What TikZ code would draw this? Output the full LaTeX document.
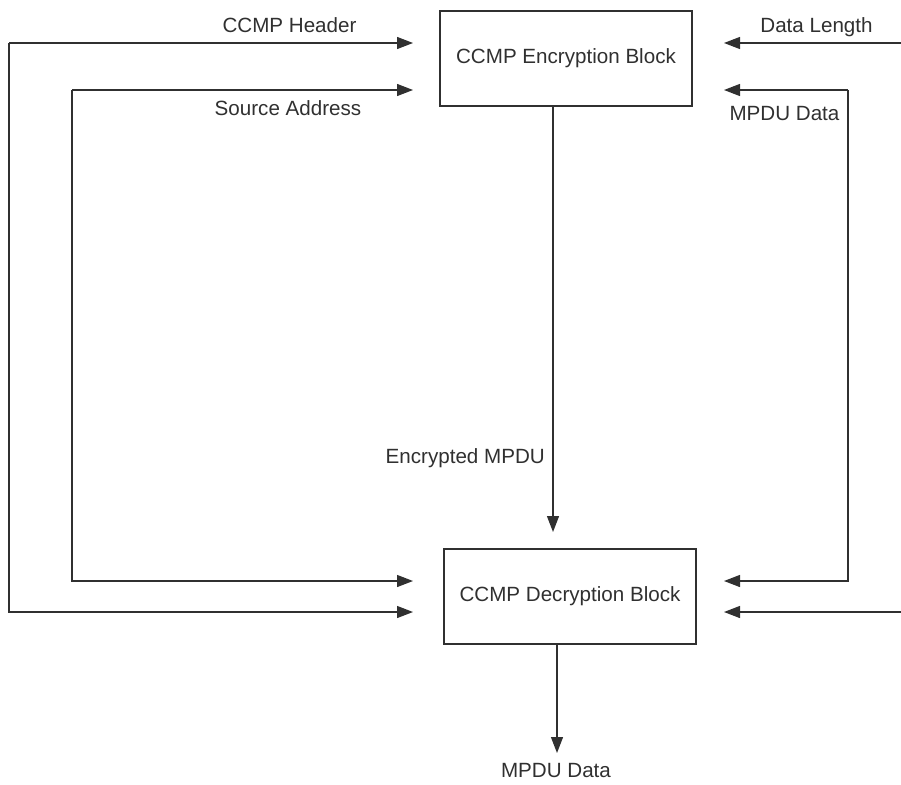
\documentclass[tikz,border=0pt]{standalone}
\usepackage{fontspec}
\setmainfont{Liberation Sans}
\usetikzlibrary{arrows.meta}
\definecolor{ink}{HTML}{303030}
\tikzset{
  blockbox/.style={draw=ink, line width=1.3pt, minimum width=252pt, minimum height=95pt, inner sep=0pt, font=\fontsize{20.6}{24}\selectfont, text=ink},
  link/.style={draw=ink, line width=1.3pt, -{Triangle[length=16pt,width=12pt]}},
  plain/.style={draw=ink, line width=1.3pt},
  lbl/.style={font=\fontsize{20.6}{24}\selectfont, text=ink, inner sep=0pt, anchor=base}
}
\begin{document}
\begin{tikzpicture}[x=1pt,y=-1pt]
\useasboundingbox (0,0) rectangle (901,784);

% the two processing blocks
\node[blockbox] (enc) at (566,58.5) {CCMP Encryption Block};
\node[blockbox] (dec) at (570,596.5) {CCMP Decryption Block};

% arrow tips and corner points
\coordinate (hdrStart) at (9,43);
\coordinate (hdrEnc) at (413,43);
\coordinate (hdrDec) at (413,612);
\coordinate (srcStart) at (72,90);
\coordinate (srcEnc) at (413,90);
\coordinate (srcDec) at (413,581);
\coordinate (lenStart) at (901,43);
\coordinate (lenEnc) at (724,43);
\coordinate (lenIn) at (901,612);
\coordinate (lenDec) at (724,612);
\coordinate (dataCorner) at (848,90);
\coordinate (dataEnc) at (724,90);
\coordinate (dataDec) at (724,581);
\coordinate (encOut) at (553,106);
\coordinate (encTip) at (553,532);
\coordinate (decOut) at (557,644);
\coordinate (decTip) at (557,753);

% CCMP header feeds both blocks
\draw[link] (hdrStart) -- (hdrEnc);
\draw[link] (hdrStart) -- (hdrStart |- hdrDec) -- (hdrDec);
% source address feeds both blocks
\draw[link] (srcStart) -- (srcEnc);
\draw[link] (srcStart) -- (srcStart |- srcDec) -- (srcDec);
% data length
\draw[link] (lenStart) -- (lenEnc);
\draw[link] (lenIn) -- (lenDec);
% MPDU data
\draw[link] (dataCorner) -- (dataEnc);
\draw[link] (dataCorner) -- (dataCorner |- dataDec) -- (dataDec);
% encrypted MPDU into the decryption block
\draw[link] (encOut) -- (encTip);
% recovered MPDU data
\draw[link] (decOut) -- (decTip);

% labels
\node[lbl] (lHdr) at (289.5,33) {CCMP Header};
\node[lbl] (lSrc) at (288,115) {Source Address};
\node[lbl] (lLen) at (816.5,32.5) {Data Length};
\node[lbl] (lData) at (784.5,120) {MPDU Data};
\node[lbl, anchor=base east] (lEncM) at (545,463) {Encrypted MPDU};
\node[lbl] (lOut) at (556,777) {MPDU Data};
\end{tikzpicture}
\end{document}
